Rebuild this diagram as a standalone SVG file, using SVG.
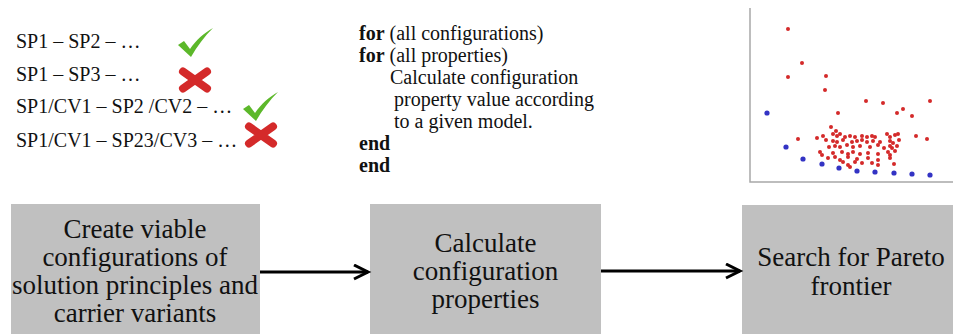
<svg xmlns="http://www.w3.org/2000/svg" width="953" height="334" viewBox="0 0 953 334" font-family="Liberation Serif, Times New Roman, serif">
<style>
.box{fill:#c0c0c0;}
.bt{font-family:'Liberation Serif','Times New Roman',serif;font-size:27px;fill:#111;text-anchor:middle;}
.lt{font-family:'Liberation Serif','Times New Roman',serif;font-size:20px;fill:#111;}
.b{font-weight:bold;}
.conn{stroke:#000;stroke-width:3;fill:none;}
.r{fill:#d42a2a;}
.bl{fill:#3333c4;}
.chk{fill:#5cb82a;}
.x{stroke:#d42a2a;stroke-width:8;stroke-linecap:round;fill:none;}
.ax{stroke:#a8a8a8;stroke-width:1.5;fill:none;}
</style>
<defs>
<marker id="arr" markerUnits="userSpaceOnUse" markerWidth="20" markerHeight="20" refX="15" refY="8" orient="auto">
<path d="M1,1 L15,8 L1,15" fill="none" stroke="#000" stroke-width="3"/>
</marker>
<path id="check" d="M0,17 L6,13 L12,21 C18,12 26,5 35,0 C27,8 19,18 13,29 Z"/>
<g id="cross"><path d="M4,3.5 L28,20.5 M28,3.5 L4,20.5"/></g>
</defs>
<rect width="953" height="334" fill="#fff"/>

<g id="list" font-family="Liberation Serif, serif">
<text class="lt" x="16" y="48">SP1 – SP2 – …</text>
<text class="lt" x="16" y="81">SP1 – SP3 – …</text>
<text class="lt" x="16" y="113">SP1/CV1 – SP2 /CV2 – …</text>
<text class="lt" x="16" y="147">SP1/CV1 – SP23/CV3 – …</text>
<use href="#check" class="chk" x="178" y="28"/>
<use href="#cross" class="x" x="179" y="68"/>
<use href="#check" class="chk" x="243" y="92"/>
<use href="#cross" class="x" x="245" y="123"/>
</g>

<g id="pseudocode" font-family="Liberation Serif, serif">
<text class="lt" x="359" y="40"><tspan class="b">for</tspan> (all configurations)</text>
<text class="lt" x="359" y="62"><tspan class="b">for</tspan> (all properties)</text>
<text class="lt" x="390" y="84">Calculate configuration</text>
<text class="lt" x="394" y="106">property value according</text>
<text class="lt" x="394" y="128">to a given model.</text>
<text class="lt b" x="359" y="150">end</text>
<text class="lt b" x="359" y="172">end</text>
</g>

<g id="scatter">
<path class="ax" d="M750,8 L750,182 L953,182"/>
<g class="r">
<circle cx="788" cy="29" r="2"/><circle cx="802" cy="63" r="2"/><circle cx="788" cy="77" r="2"/><circle cx="826" cy="76" r="2"/><circle cx="825" cy="90" r="2"/><circle cx="866" cy="101" r="2"/><circle cx="883" cy="103" r="2"/><circle cx="930" cy="101" r="2"/><circle cx="897" cy="113" r="2"/><circle cx="903" cy="109" r="2"/><circle cx="912" cy="116" r="2"/><circle cx="838" cy="113" r="2"/><circle cx="831" cy="127" r="2"/><circle cx="798" cy="139" r="2"/><circle cx="817" cy="138" r="2"/><circle cx="916" cy="136" r="2"/><circle cx="927" cy="139" r="2"/><circle cx="898" cy="134" r="2"/>
<circle cx="823" cy="136" r="2"/><circle cx="833" cy="134" r="2"/><circle cx="837" cy="136" r="2"/><circle cx="840" cy="134" r="2"/><circle cx="845" cy="137" r="2"/><circle cx="850" cy="136" r="2"/><circle cx="855" cy="137" r="2"/><circle cx="862" cy="136" r="2"/><circle cx="867" cy="137" r="2"/><circle cx="872" cy="136" r="2"/><circle cx="875" cy="137" r="2"/><circle cx="887" cy="134" r="2"/><circle cx="890" cy="137" r="2"/><circle cx="836" cy="131" r="2"/><circle cx="895" cy="135" r="2"/>
<circle cx="833" cy="141" r="2"/><circle cx="837" cy="142" r="2"/><circle cx="843" cy="140" r="2"/><circle cx="852" cy="142" r="2"/><circle cx="857" cy="141" r="2"/><circle cx="862" cy="140" r="2"/><circle cx="867" cy="142" r="2"/><circle cx="873" cy="141" r="2"/><circle cx="880" cy="142" r="2"/><circle cx="890" cy="141" r="2"/><circle cx="893" cy="143" r="2"/><circle cx="826" cy="140" r="2"/><circle cx="899" cy="140" r="2"/>
<circle cx="835" cy="146" r="2"/><circle cx="840" cy="147" r="2"/><circle cx="847" cy="145" r="2"/><circle cx="853" cy="147" r="2"/><circle cx="860" cy="146" r="2"/><circle cx="870" cy="147" r="2"/><circle cx="878" cy="145" r="2"/><circle cx="890" cy="146" r="2"/><circle cx="892" cy="148" r="2"/><circle cx="884" cy="148" r="2"/><circle cx="897" cy="146" r="2"/><circle cx="829" cy="147" r="2"/>
<circle cx="820" cy="152" r="2"/><circle cx="822" cy="155" r="2"/><circle cx="833" cy="153" r="2"/><circle cx="842" cy="152" r="2"/><circle cx="848" cy="154" r="2"/><circle cx="853" cy="152" r="2"/><circle cx="860" cy="154" r="2"/><circle cx="868" cy="153" r="2"/><circle cx="878" cy="154" r="2"/><circle cx="888" cy="152" r="2"/><circle cx="890" cy="155" r="2"/><circle cx="895" cy="151" r="2"/>
<circle cx="828" cy="158" r="2"/><circle cx="840" cy="160" r="2"/><circle cx="848" cy="157" r="2"/><circle cx="857" cy="159" r="2"/><circle cx="868" cy="158" r="2"/><circle cx="878" cy="160" r="2"/><circle cx="890" cy="158" r="2"/><circle cx="843" cy="162" r="2"/><circle cx="855" cy="162" r="2"/><circle cx="835" cy="157" r="2"/>
<circle cx="878" cy="165" r="2"/><circle cx="862" cy="163" r="2"/><circle cx="848" cy="165" r="2"/><circle cx="894" cy="164" r="2"/><circle cx="872" cy="163" r="2"/><circle cx="850" cy="167" r="2"/>
</g>
<g class="bl">
<circle cx="767" cy="113" r="2.6"/><circle cx="786" cy="147" r="2.6"/><circle cx="803" cy="159" r="2.6"/><circle cx="822" cy="164" r="2.6"/><circle cx="839" cy="168" r="2.6"/><circle cx="857" cy="171" r="2.6"/><circle cx="875" cy="172" r="2.6"/><circle cx="894" cy="173" r="2.6"/><circle cx="912" cy="174" r="2.6"/><circle cx="930" cy="175" r="2.6"/>
</g>
</g>

<g id="node-create" font-family="Liberation Serif, serif">
<rect class="box" x="11" y="204" width="249" height="135"/>
<text class="bt" x="135" y="238">Create viable</text>
<text class="bt" x="135" y="266">configurations of</text>
<text class="bt" x="135" y="294">solution principles and</text>
<text class="bt" x="135" y="322">carrier variants</text>
</g>

<g id="node-calc" font-family="Liberation Serif, serif">
<rect class="box" x="370" y="204" width="231" height="135"/>
<text class="bt" x="485.5" y="252">Calculate</text>
<text class="bt" x="485.5" y="280">configuration</text>
<text class="bt" x="485.5" y="308">properties</text>
</g>

<g id="node-search" font-family="Liberation Serif, serif">
<rect class="box" x="742" y="205" width="215" height="135"/>
<text class="bt" x="851" y="266">Search for Pareto</text>
<text class="bt" x="851" y="295">frontier</text>
</g>

<g id="connectors">
<path class="conn" d="M260,272 L368,272" marker-end="url(#arr)"/>
<path class="conn" d="M601,271 L740,271" marker-end="url(#arr)"/>
</g>
</svg>
